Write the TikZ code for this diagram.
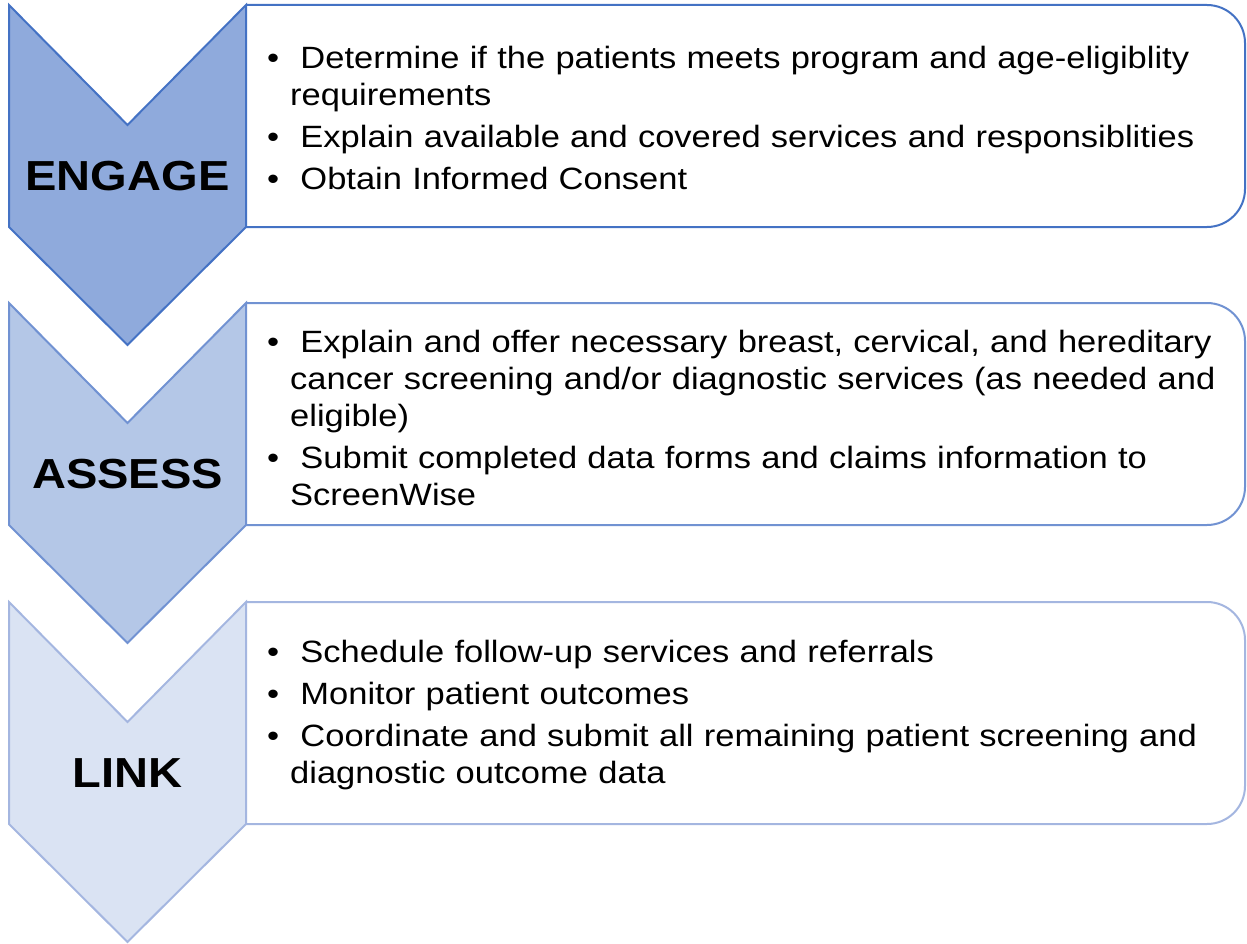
\documentclass[tikz,border=0pt]{standalone}
\usepackage{fontspec}
\setmainfont{Liberation Sans}[FakeStretch=1.12]
\definecolor{fillA}{HTML}{8FAADC}
\definecolor{lineA}{HTML}{4472C4}
\definecolor{fillB}{HTML}{B4C7E7}
\definecolor{lineB}{HTML}{7192D2}
\definecolor{fillC}{HTML}{DAE3F3}
\definecolor{lineC}{HTML}{A4B6E0}
% one bullet line with hanging indent for wrapped text
\newcommand\bul[1]{\par\hangindent=23pt\hangafter=1\noindent\makebox[23pt][l]{\textbullet}\ #1}
% chevron with top edge at y=#1
\newcommand\chev[3]{%
  \draw[line width=2pt,fill=#2,draw=#3,line join=miter]
    (9,#1) -- (127.5,#1+120) -- (246,#1) -- (246,#1+222) -- (127.5,#1+340) -- (9,#1+222) -- cycle;}
% text panel, rounded on the right, top edge at y=#1
\newcommand\panel[2]{%
  \draw[line width=2pt,draw=#2,fill=white]
    (246,#1) -- (1207,#1) .. controls (1228,#1) and (1245,#1+17) .. (1245,#1+38)
    -- (1245,#1+184) .. controls (1245,#1+205) and (1228,#1+222) .. (1207,#1+222)
    -- (246,#1+222);}
\tikzset{
  stage/.style={font=\fontsize{42}{48}\selectfont\bfseries, inner sep=0pt},
  items/.style={anchor=west, text width=960pt, align=left, inner sep=0pt,
    font=\fontsize{30.8}{37}\selectfont}
}
\begin{document}
\begin{tikzpicture}[x=1pt,y=-1pt]
\useasboundingbox (0,0) rectangle (1247,944);
% panels
\panel{5}{lineA}
\panel{303}{lineB}
\panel{602}{lineC}
% chevrons
\chev{602}{fillC}{lineC}
\chev{303}{fillB}{lineB}
\chev{5}{fillA}{lineA}
% stage labels
\node[stage] (engage) at (127.5,176) {ENGAGE};
\node[stage] (assess) at (127.5,474) {ASSESS};
\node[stage] (link) at (127.5,773) {LINK};
% panel texts
\node[items] (t1) at (267,108) {\setlength\parskip{5pt}%
  \bul{Determine if the patients meets program and age-eligiblity\newline requirements}
  \bul{Explain available and covered services and responsiblities}
  \bul{Obtain Informed Consent}\par};
\node[items] (t2) at (267,408) {\setlength\parskip{5pt}%
  \bul{Explain and offer necessary breast, cervical, and hereditary\newline cancer screening and/or diagnostic services (as needed and\newline eligible)}
  \bul{Submit completed data forms and claims information to\newline ScreenWise}\par};
\node[items] (t3) at (267,705) {\setlength\parskip{5pt}%
  \bul{Schedule follow-up services and referrals}
  \bul{Monitor patient outcomes}
  \bul{Coordinate and submit all remaining patient screening and\newline diagnostic outcome data}\par};
\end{tikzpicture}
\end{document}
